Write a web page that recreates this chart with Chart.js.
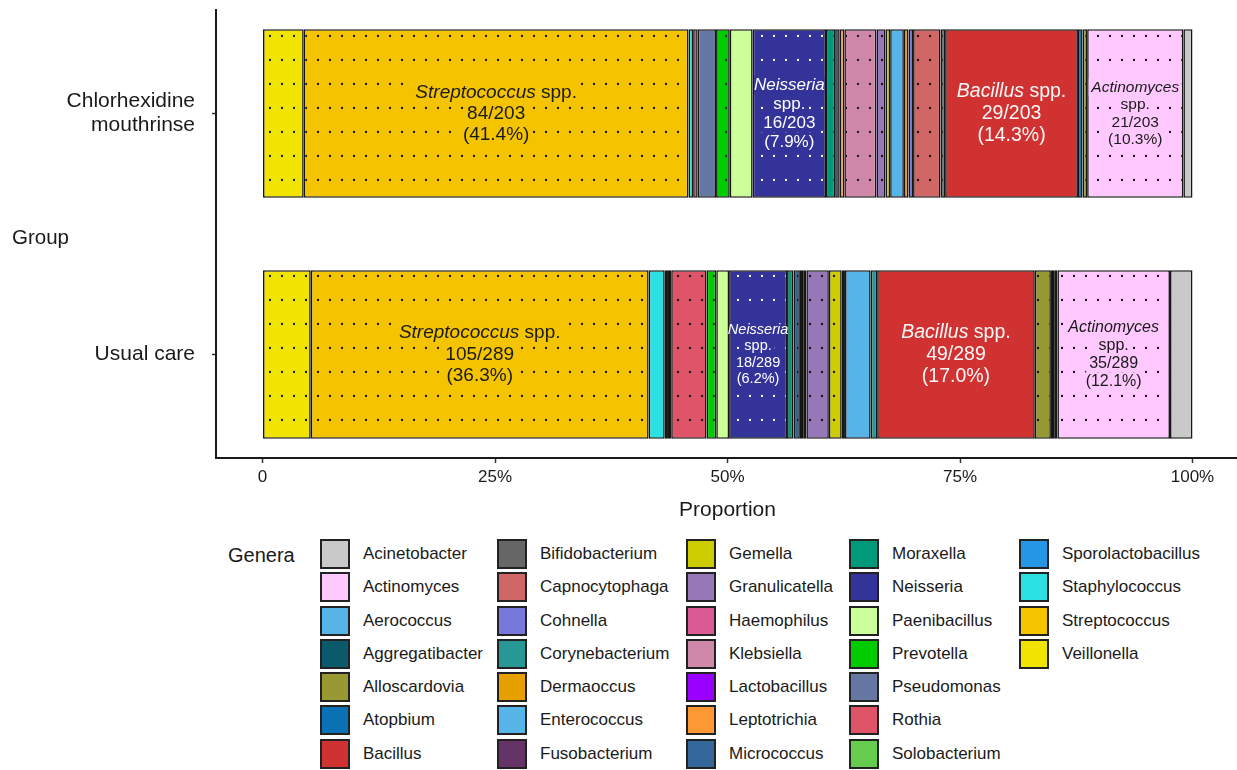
<!DOCTYPE html>
<html>
<head>
<meta charset="utf-8">
<script src="https://cdn.jsdelivr.net/npm/chart.js@4.4.1/dist/chart.umd.min.js"></script>
<style>
  html, body { margin: 0; padding: 0; background: #fff; overflow: hidden; }
  body { width: 1237px; height: 770px; position: relative; font-family: 'Liberation Sans', Arial, sans-serif; color: #1a1a1a; }
  #chart-wrap { position: absolute; left: 0; top: 0; width: 1239px; height: 525px; }
  #group-title { position: absolute; left: 12px; top: 225px; font-size: 20.5px; line-height: 24px; }
  #legend-title { position: absolute; left: 228px; top: 543px; font-size: 20px; line-height: 24px; }
  #legend {
    position: absolute; left: 320px; top: 539px;
    display: grid; grid-auto-flow: column;
    grid-template-rows: repeat(7, 33.3px);
    grid-template-columns: 177px 189px 163px 170px auto;
  }
  .item { display: flex; align-items: flex-start; }
  .swatch { width: 30px; height: 30px; box-sizing: border-box; border: 2px solid #222; }
  .item span { margin-left: 13px; font-size: 17px; line-height: 30px; }
</style>
</head>
<body>
<div id="chart-wrap"><canvas id="chart"></canvas></div>
<div id="group-title">Group</div>
<div id="legend-title">Genera</div>
<div id="legend"></div>
<script>
// Gruppen (oben -> unten)
const groupTickLabels = [['Chlorhexidine', 'mouthrinse'], ['Usual care']];
const groupTotals = [203, 289];

// Gattungen, alphabetisch (Legende)
const genera = [
    'Acinetobacter', 'Actinomyces', 'Aerococcus', 'Aggregatibacter', 'Alloscardovia',
    'Atopbium', 'Bacillus', 'Bifidobacterium', 'Capnocytophaga', 'Cohnella',
    'Corynebacterium', 'Dermaoccus', 'Enterococcus', 'Fusobacterium', 'Gemella',
    'Granulicatella', 'Haemophilus', 'Klebsiella', 'Lactobacillus', 'Leptotrichia',
    'Micrococcus', 'Moraxella', 'Neisseria', 'Paenibacillus', 'Prevotella',
    'Pseudomonas', 'Rothia', 'Solobacterium', 'Sporolactobacillus', 'Staphylococcus',
    'Streptococcus', 'Veillonella'
];

// Isolate je Gattung
const chlorhexidineCounts = [
    2, 21, 0, 0, 1,
    1, 29, 1, 6, 1,
    0, 1, 3, 0, 1,
    2, 0, 7, 0, 1,
    1, 2, 16, 5, 3,
    4, 1, 0, 0, 1,
    84, 9
];
const usualCareCounts = [
    7, 35, 1, 1, 5,
    0, 49, 0, 0, 0,
    2, 0, 8, 1, 4,
    7, 1, 0, 1, 0,
    2, 2, 18, 4, 3,
    0, 11, 1, 1, 5,
    105, 15
];

const generaColors = [
    '#c9c9c9', '#ffc8ff', '#56b4e9', '#0b5a6b', '#999933',
    '#0a72b4', '#d03232', '#666666', '#d06666', '#7878dc',
    '#289896', '#e6a000', '#56b4e9', '#663366', '#cccc00',
    '#9677b8', '#da5a94', '#d088aa', '#9900ff', '#ff9933',
    '#336699', '#00997a', '#333399', '#ccff99', '#00cc00',
    '#6677a3', '#e0546a', '#66cc4d', '#2596e6', '#2ae0e0',
    '#f5c400', '#f0e400'
];

// Gattungen mit Punktmuster
const dottedGenera = [
    'Actinomyces', 'Aggregatibacter', 'Alloscardovia', 'Atopbium', 'Bifidobacterium',
    'Capnocytophaga', 'Fusobacterium', 'Gemella', 'Granulicatella', 'Haemophilus',
    'Klebsiella', 'Lactobacillus', 'Leptotrichia', 'Micrococcus', 'Moraxella',
    'Neisseria', 'Prevotella', 'Rothia', 'Solobacterium', 'Streptococcus', 'Veillonella'
];
const lightDotGenera = ['Neisseria'];

const xTickValues = [0, 0.25, 0.5, 0.75, 1];
const xTickLabels = ['0', '25%', '50%', '75%', '100%'];

// Beschriftung grosser Segmente
const labelStyles = {
    Streptococcus: { inline: true, color: '#1a1a1a', size: [19, 19] },
    Neisseria: { inline: false, color: '#ffffff', size: [17, 14.5] },
    Bacillus: { inline: true, color: '#f7f7f7', size: [19.5, 19.5] },
    Actinomyces: { inline: false, color: '#1a1a1a', size: [15.5, 16] }
};

const FONT = "'Liberation Sans', Arial, sans-serif";
const BORDER_W = 1.6;

function makeDotPattern(color, dotColor) {
    const c = document.createElement('canvas');
    c.width = 12;
    c.height = 24;
    const g = c.getContext('2d');
    g.fillStyle = color;
    g.fillRect(0, 0, 12, 24);
    g.fillStyle = dotColor;
    g.beginPath();
    g.arc(6, 12, 1.15, 0, Math.PI * 2);
    g.fill();
    return g.createPattern(c, 'repeat');
}

function fillFor(genus, color) {
    if (dottedGenera.indexOf(genus) < 0) return color;
    const dot = lightDotGenera.indexOf(genus) >= 0 ? '#ffffff' : '#111111';
    return makeDotPattern(color, dot);
}

// Stapelreihenfolge von links: umgekehrt alphabetisch
const datasets = genera.map((genus, i) => {
    const counts = [chlorhexidineCounts[i], usualCareCounts[i]];
    const data = [];
    counts.forEach((c, g) => {
        if (c > 0) data.push({ x: c / groupTotals[g], y: g + 1, count: c });
    });
    return {
        label: genus,
        data: data,
        baseColor: generaColors[i],
        backgroundColor: fillFor(genus, generaColors[i]),
        borderColor: '#161616',
        borderWidth: BORDER_W,
        borderSkipped: false,
        categoryPercentage: 1,
        barPercentage: 0.7
    };
}).reverse();

const barText = {
    id: 'barText',
    afterDatasetsDraw(chart) {
        const ctx = chart.ctx;
        chart.data.datasets.forEach((ds, di) => {
            const style = labelStyles[ds.label];
            if (!style) return;
            const meta = chart.getDatasetMeta(di);
            meta.data.forEach((el, j) => {
                const raw = ds.data[j];
                const g = raw.y - 1;
                const total = groupTotals[g];
                const size = style.size[g];
                const frac = raw.count + '/' + total;
                const pct = '(' + (raw.count / total * 100).toFixed(1) + '%)';
                const lines = style.inline
                    ? [[{ t: ds.label, i: true }, { t: ' spp.' }], [{ t: frac }], [{ t: pct }]]
                    : [[{ t: ds.label, i: true }], [{ t: 'spp.' }], [{ t: frac }], [{ t: pct }]];
                const cx = (el.x + el.base) / 2;
                const segL = Math.min(el.x, el.base) + BORDER_W;
                const segR = Math.max(el.x, el.base) - BORDER_W;
                const lh = size * 1.12;
                ctx.save();
                ctx.textBaseline = 'middle';
                ctx.textAlign = 'left';
                lines.forEach((parts, k) => {
                    const y = el.y + (k - (lines.length - 1) / 2) * lh;
                    let w = 0;
                    parts.forEach(p => {
                        ctx.font = (p.i ? 'italic ' : '') + size + 'px ' + FONT;
                        p.w = ctx.measureText(p.t).width;
                        w += p.w;
                    });
                    // Punkte hinter der Zeile ausblenden
                    const bl = Math.max(segL, cx - w / 2 - 3);
                    const br = Math.min(segR, cx + w / 2 + 3);
                    ctx.fillStyle = ds.baseColor;
                    ctx.fillRect(bl, y - lh / 2, br - bl, lh);
                    ctx.fillStyle = style.color;
                    let x = cx - w / 2;
                    parts.forEach(p => {
                        ctx.font = (p.i ? 'italic ' : '') + size + 'px ' + FONT;
                        ctx.fillText(p.t, x, y);
                        x += p.w;
                    });
                });
                ctx.restore();
            });
        });
    }
};

new Chart(document.getElementById('chart'), {
    type: 'bar',
    data: { datasets: datasets },
    options: {
        indexAxis: 'y',
        responsive: true,
        maintainAspectRatio: false,
        animation: false,
        layout: { padding: { top: 10, right: 0, bottom: 0, left: 0 } },
        plugins: {
            legend: { display: false },
            tooltip: { enabled: false }
        },
        scales: {
            x: {
                type: 'linear',
                stacked: true,
                min: -0.05,
                max: 1.05,
                afterBuildTicks: s => { s.ticks = xTickValues.map(v => ({ value: v })); },
                afterFit: s => { s.height = 67; s.paddingLeft = 0; s.paddingRight = 0; },
                border: { display: true, color: '#1a1a1a', width: 2 },
                grid: {
                    display: true,
                    drawOnChartArea: false,
                    drawTicks: true,
                    tickLength: 5,
                    tickColor: '#333',
                    tickWidth: 1.5
                },
                ticks: {
                    color: '#1a1a1a',
                    padding: 4,
                    maxRotation: 0,
                    font: { family: FONT, size: 17 },
                    callback: v => xTickLabels[xTickValues.indexOf(v)]
                },
                title: {
                    display: true,
                    text: 'Proportion',
                    color: '#1a1a1a',
                    font: { family: FONT, size: 21 },
                    padding: { top: 4, bottom: 2 }
                }
            },
            y: {
                type: 'linear',
                stacked: true,
                reverse: true,
                offset: false,
                min: 0.57,
                max: 2.43,
                afterBuildTicks: s => { s.ticks = groupTotals.map((t, i) => ({ value: i + 1 })); },
                afterFit: s => { s.width = 216; s.paddingTop = 0; s.paddingBottom = 0; },
                border: { display: true, color: '#1a1a1a', width: 2 },
                grid: {
                    display: true,
                    offset: false,
                    drawOnChartArea: false,
                    drawTicks: true,
                    tickLength: 4,
                    tickColor: '#333',
                    tickWidth: 1.5
                },
                ticks: {
                    color: '#1a1a1a',
                    padding: 17,
                    font: { family: FONT, size: 21, lineHeight: 1.15 },
                    callback: v => groupTickLabels[v - 1]
                }
            }
        }
    },
    plugins: [barText]
});

// Legende (spaltenweise, alphabetisch)
const legendEl = document.getElementById('legend');
genera.forEach((genus, i) => {
    const item = document.createElement('div');
    item.className = 'item';
    const sw = document.createElement('div');
    sw.className = 'swatch';
    sw.style.background = generaColors[i];
    const label = document.createElement('span');
    label.textContent = genus;
    item.appendChild(sw);
    item.appendChild(label);
    legendEl.appendChild(item);
});
</script>
</body>
</html>
